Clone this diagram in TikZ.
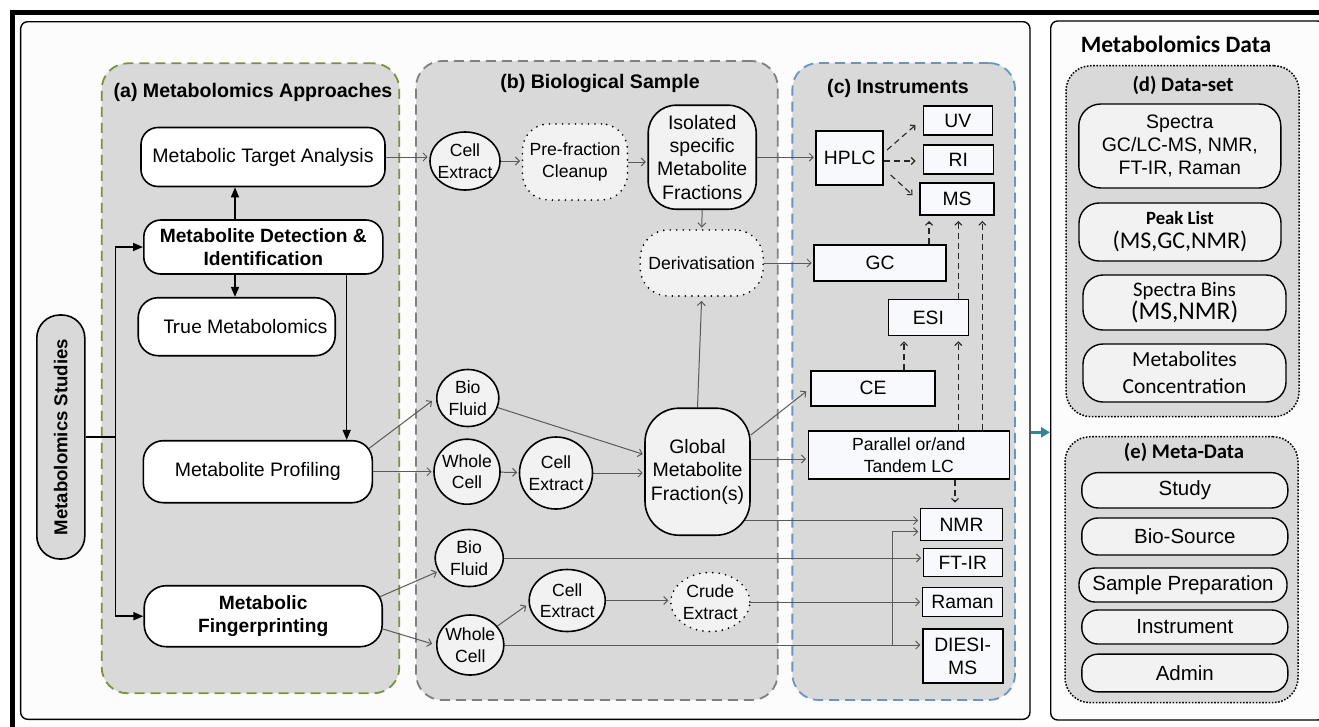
\documentclass[tikz,border=0pt]{standalone}
\usepackage{fontspec}
\usepackage{graphicx}
\setmainfont{Liberation Sans}
\newfontfamily\calfont{Carlito}
\usetikzlibrary{arrows.meta,shapes.geometric}

\definecolor{areagray}{HTML}{D9D9D9}
\definecolor{nodegray}{HTML}{F2F2F2}
\definecolor{instfill}{HTML}{F7F9FC}
\definecolor{framefill}{HTML}{FCFCFC}
\definecolor{agreen}{HTML}{77933C}
\definecolor{bgray}{HTML}{808080}
\definecolor{cblue}{HTML}{6C93C7}
\definecolor{linkgray}{HTML}{5A5A5A}
\definecolor{arrowteal}{HTML}{31849B}

\newcommand\txtA{\fontsize{19.5pt}{23.4pt}\selectfont}
\newcommand\txtAb{\bfseries\fontsize{19.2pt}{22.5pt}\selectfont}
\newcommand\txtC{\fontsize{17.6pt}{21.6pt}\selectfont}
\newcommand\txtI{\fontsize{19.3pt}{23.3pt}\selectfont}
\newcommand\txtT{\bfseries\fontsize{19.6pt}{23.5pt}\selectfont}
\newcommand\txtE{\fontsize{20.5pt}{24pt}\selectfont}

\pgfdeclarelayer{panels}
\pgfdeclarelayer{links}
\pgfsetlayers{panels,links,main}

\begin{document}
\begin{tikzpicture}[x=1pt,y=-1pt,
  frame/.style={draw=black,line width=1.4pt,rounded corners=7pt,fill=framefill,inner sep=0pt},
  area/.style={fill=areagray,line width=1.8pt,dash pattern=on 10pt off 6pt,rounded corners=26pt,inner sep=0pt},
  dots/.style={draw=black,line width=1.5pt,dash pattern=on 1.6pt off 1.6pt,fill=areagray,rounded corners=25pt,inner sep=0pt},
  abox/.style={draw=black,line width=1.6pt,fill=white,rounded corners=17pt,inner sep=0pt,align=center,font=\txtA},
  bcirc/.style={ellipse,draw=black,line width=1.6pt,fill=nodegray,inner sep=-12pt,align=center,font=\txtC},
  bround/.style={draw=black,line width=1.6pt,fill=nodegray,inner sep=0pt,align=center,font=\txtA},
  dotline/.style={line width=1.9pt,dash pattern=on 0pt off 6.5pt,line cap=round},
  bdots/.style={draw=black,dotline,fill=nodegray,inner sep=0pt,align=center,font=\txtC},
  ibox/.style={draw=black,line width=1.6pt,fill=instfill,inner sep=0pt,align=center,font=\txtI},
  dbox/.style={draw=black,line width=1.4pt,fill=nodegray,rounded corners=20pt,inner sep=0pt,align=center},
  ebox/.style={draw=black,line width=1.4pt,fill=nodegray,rounded corners=16pt,inner sep=0pt,minimum width=206pt,font=\txtE},
  link/.style={draw=linkgray,line width=1pt,-{Straight Barb[length=4pt,width=8pt]},shorten >=1.5pt},
  dlink/.style={draw=black!85,line width=1.1pt,dash pattern=on 6pt off 4pt,-{Straight Barb[length=3.5pt,width=7pt]},shorten >=5pt},
  flow/.style={draw=black,line width=1.5pt,-{Triangle[length=10pt,width=8pt]}},
  title/.style={font=\txtT,inner sep=0pt},
  ctitle/.style={font=\calfont\bfseries\fontsize{20.7pt}{24pt}\selectfont,inner sep=0pt}]

\useasboundingbox (0,0) rectangle (1319,726);

% ---------- panels ----------
\begin{pgfonlayer}{panels}
  \fill[white] (0,0) rectangle (1319,726);
  \node[frame,minimum width=1009.3pt,minimum height=697.6pt] (lp) at (525.3,370.5) {};
  \node[frame,minimum width=274pt,minimum height=699pt] (rp) at (1187.7,370.5) {};
  \node[area,draw=agreen,minimum width=297.6pt,minimum height=630pt] (pa) at (250.5,378.3) {};
  \node[area,draw=bgray,minimum width=361.7pt,minimum height=639pt] (pb) at (596.9,380.5) {};
  \node[area,draw=cblue,minimum width=222.7pt,minimum height=637pt] (pc) at (903.7,381.5) {};
  \node[dots,minimum width=233pt,minimum height=351pt] (ds) at (1182.5,241.2) {};
  \node[dots,minimum width=233pt,minimum height=266pt] (md) at (1181.5,569.7) {};
\end{pgfonlayer}

% heavy outer rule on top and left
\draw[line width=5pt] (1330,12.5) -- (12.5,12.5) -- (12.5,735);

% ---------- titles ----------
\node[title] (ta) at (253,92.3) {(a) Metabolomics Approaches};
\node[title] (tb) at (600,83) {(b) Biological Sample};
\node[title] (tc) at (898,88.3) {(c) Instruments};
\node[font=\calfont\bfseries\fontsize{23.5pt}{28pt}\selectfont,inner sep=0pt] (tr) at (1176,44) {Metabolomics Data};
\node[ctitle] (td) at (1183,85) {(d) Data-set};
\node[ctitle] (te) at (1184,452.7) {(e) Meta-Data};

% ---------- (a) approaches ----------
\node[draw=black,line width=1.6pt,fill=areagray,rounded corners=23pt,minimum width=48pt,minimum height=244pt,inner sep=0pt,
      font=\bfseries\fontsize{18.6pt}{22pt}\selectfont] (ms) at (60.8,437) {\rotatebox{90}{Metabolomics Studies}};
\node[abox,minimum width=244pt,minimum height=59pt] (mta) at (263,157) {Metabolic Target Analysis};
\node[abox,font=\txtAb,minimum width=239pt,minimum height=54pt] (mdi) at (263.3,247) {Metabolite Detection \&\\Identification};
\node[abox,minimum width=197pt,minimum height=58pt,rounded corners=20pt] (tm) at (236.7,326.7)
     {\hspace*{18pt}{\calfont\fontsize{21pt}{25pt}\selectfont True} Metabolomics};
\node[abox,minimum width=229pt,minimum height=62pt,rounded corners=20pt] (mp) at (257.8,471.7) {Metabolite Profiling};
\node[abox,font=\txtAb,minimum width=238pt,minimum height=61pt,rounded corners=22pt] (mf) at (263.2,616.2) {Metabolic\\Fingerprinting};

% ---------- (b) biological sample ----------
\node[bcirc,minimum width=70pt,minimum height=58pt] (ce1) at (465,161) {Cell\\Extract};
\node[bdots,minimum width=105pt,minimum height=76pt,rounded corners=26pt] (pfc) at (575,162) {Pre-fraction\\Cleanup};
\node[bround,rounded corners=28pt,minimum width=108pt,minimum height=104pt] (isf) at (702.2,157.2) {Isolated\\specific\\Metabolite\\Fractions};
\node[bdots,minimum width=123pt,minimum height=66pt,rounded corners=28pt] (der) at (701.7,263) {Derivatisation};
\node[bcirc,minimum width=62pt,minimum height=57pt] (bf1) at (467.8,398) {Bio\\Fluid};
\node[bcirc,minimum width=66pt,minimum height=65pt] (wc1) at (467,471.7) {Whole\\Cell};
\node[bcirc,minimum width=73pt,minimum height=72pt] (ce2) at (556,473) {Cell\\Extract};
\node[bround,rounded corners=34pt,minimum width=105pt,minimum height=127pt] (gmf) at (697.5,471.7) {Global\\Metabolite\\Fraction(s)};
\node[bcirc,minimum width=68pt,minimum height=57pt] (bf2) at (469.2,558) {Bio\\Fluid};
\node[bcirc,minimum width=67pt,minimum height=60pt] (wc2) at (470.3,645) {Whole\\Cell};
\node[bcirc,minimum width=76pt,minimum height=62pt] (ce3) at (567.2,600.5) {Cell\\Extract};
\node[bcirc,dotline,minimum width=79pt,minimum height=59pt] (cru) at (710.3,602) {Crude\\Extract};

% ---------- (c) instruments ----------
\node[ibox,minimum width=67pt,minimum height=54pt] (hplc) at (849.7,158) {HPLC};
\node[ibox,minimum width=69pt,minimum height=29pt] (uv) at (957.8,120.5) {UV};
\node[ibox,minimum width=70pt,minimum height=29pt] (ri) at (958.3,159.5) {RI};
\node[ibox,minimum width=74pt,minimum height=32pt] (msb) at (957,199.2) {MS};
\node[ibox,minimum width=132pt,minimum height=36pt] (gc) at (880,262.8) {GC};
\node[ibox,minimum width=80pt,minimum height=36pt] (esi) at (928.3,317.5) {ESI};
\node[ibox,minimum width=124pt,minimum height=35pt] (ce) at (873,388.3) {CE};
\node[ibox,font=\txtC,minimum width=201pt,minimum height=48pt] (plc) at (908.8,455) {Parallel or/and\\Tandem LC};
\node[ibox,minimum width=82pt,minimum height=32pt] (nmr) at (961.5,524.5) {NMR};
\node[ibox,minimum width=79pt,minimum height=28pt] (ftir) at (962.8,562.5) {FT-IR};
\node[ibox,minimum width=80pt,minimum height=29pt] (raman) at (962.5,602) {Raman};
\node[ibox,minimum width=80pt,minimum height=54pt] (diesi) at (962.7,656.2) {DIESI-\\MS};

% ---------- (d) data-set ----------
\node[dbox,font=\txtA,minimum width=202pt,minimum height=84pt,rounded corners=22pt] (sp) at (1179.8,146) {Spectra\\GC/LC-MS, NMR,\\FT-IR, Raman};
\node[dbox,font=\calfont\fontsize{20pt}{24pt}\selectfont,minimum width=202pt,minimum height=58pt] (pl) at (1180,232)
     {{\bfseries\fontsize{18.7pt}{24pt}\selectfont Peak List}\\{\fontsize{24pt}{24pt}\selectfont (MS,GC,NMR)}};
\node[dbox,font=\calfont\fontsize{20.7pt}{23pt}\selectfont,minimum width=203pt,minimum height=55pt] (sb) at (1184.5,302.5)
     {Spectra Bins\\{\fontsize{25.5pt}{23pt}\selectfont (MS,NMR)}};
\node[dbox,font=\calfont\fontsize{21.5pt}{27pt}\selectfont,minimum width=203pt,minimum height=58pt] (mc) at (1184.5,373)
     {Metabolites\\Concentration};

% ---------- (e) meta-data ----------
\node[ebox,minimum height=35.3pt] (study) at (1184.8,490.3) {Study};
\node[ebox,minimum height=37pt] (bio) at (1184.8,536.5) {Bio-Source};
\node[ebox,minimum width=208pt,minimum height=34pt] (spp) at (1183,585) {Sample Preparation};
\node[ebox,minimum height=34pt] (instr) at (1184.8,627) {Instrument};
\node[ebox,minimum height=37.7pt] (admin) at (1184.8,673) {Admin};

% ---------- connectors ----------
\coordinate (xa) at (235,0);
\coordinate (xb) at (346.7,0);
\coordinate (jn) at (115.7,437);
\coordinate (xbr) at (892.3,0);
\coordinate (xg) at (929,0);
\coordinate (xe) at (958.3,0);
\coordinate (xc) at (904,0);
\coordinate (xp) at (982.3,0);
\coordinate (xn) at (955,0);
\coordinate (ty) at (0,432.3);
\coordinate (nA) at ([yshift=4pt]nmr.west);
\coordinate (gA) at ([xshift=-8pt]gmf.east);

\begin{pgfonlayer}{links}
  % approaches
  \draw[flow] (mdi.north -| xa) -- (mta.south -| xa);
  \draw[flow] (mdi.south -| xa) -- (tm.north -| xa);
  \draw[flow] (mdi.south -| xb) -- (mp.north -| xb);
  \draw[line width=1.5pt] (ms.east) -- (jn);
  \draw[flow] (jn) |- (mdi.west);
  \draw[flow] (jn) |- (mf.west);

  % biological sample
  \draw[link] (mta.east) -- (mta.east -| ce1.west);
  \draw[link] (ce1.east) -- (ce1.east -| pfc.west);
  \draw[link] (pfc.east) -- (pfc.east -| isf.west);
  \draw[link] (isf.east) -- (isf.east -| hplc.west);
  \draw[link] (isf.south) -- (der.north);
  \draw[link,shorten >=4pt] (gmf.north) -- (der.south);
  \draw[link] (der.east) -- (der.east -| gc.west);
  \draw[link,shorten >=5pt] ([xshift=-4pt,yshift=23.4pt]mp.east) -- (bf1.west);
  \draw[link] (mp.east) -- (mp.east -| wc1.west);
  \draw[link] (bf1) -- (gmf);
  \draw[link] (wc1) -- (ce2);
  \draw[link] (ce2.east) -- (ce2.east -| gmf.west);
  \draw[link,shorten >=5pt] ([yshift=36.7pt]gmf.east) -- (ce.west);
  \draw[link] ([yshift=12.7pt]gmf.east) -- ([yshift=12.7pt]gmf.east -| plc.west);
  \draw[link] (gA |- nA) -- (nA);
  \draw[link] ([xshift=-3pt,yshift=19.5pt]mf.east) -- (bf2);
  \draw[link,shorten >=4pt] ([yshift=-12.8pt]mf.east) -- (wc2.west);
  \draw[link,shorten >=3pt] (wc2.35) -- (ce3.185);
  \draw[link] (ce3.east) -- (ce3.east -| cru.west);
  \draw[link] (bf2.east) -- (bf2.east -| ftir.west);
  \draw[link] (cru.east) -- (cru.east -| raman.west);
  \draw[link] (wc2.east) -- (wc2.east -| diesi.west);
  \draw[link] (wc2.east -| xbr) |- ([yshift=-7.2pt]nmr.west);

  % instruments
  \draw[dlink,shorten >=0pt] ([xshift=3pt,yshift=8pt]hplc.east) -- ([xshift=-7pt,yshift=-4.5pt]uv.west);
  \draw[dlink,shorten >=7pt] ([yshift=-3pt]hplc.east) -- ([yshift=-3pt]hplc.east -| ri.west);
  \draw[dlink,shorten >=0pt] ([xshift=6.7pt,yshift=-17pt]hplc.east) -- ([xshift=-6.7pt,yshift=4.2pt]msb.west);
  \draw[dlink] (gc.north -| xg) -- (msb.south -| xg);
  \draw[dlink] (esi.north -| xe) -- (msb.south -| xe);
  \draw[dlink] (ce.north -| xc) -- (esi.south -| xc);
  \draw[dlink] (plc.north -| xe) -- (esi.south -| xe);
  \draw[dlink] (plc.north -| xp) -- (msb.south -| xp);
  \draw[dlink] (plc.south -| xn) -- (nmr.north -| xn);

  % into the data panel
  \draw[draw=arrowteal,line width=3pt,-{Triangle[length=9pt,width=10pt]}] (lp.east |- ty) -- (rp.west |- ty);
\end{pgfonlayer}

\end{tikzpicture}
\end{document}
